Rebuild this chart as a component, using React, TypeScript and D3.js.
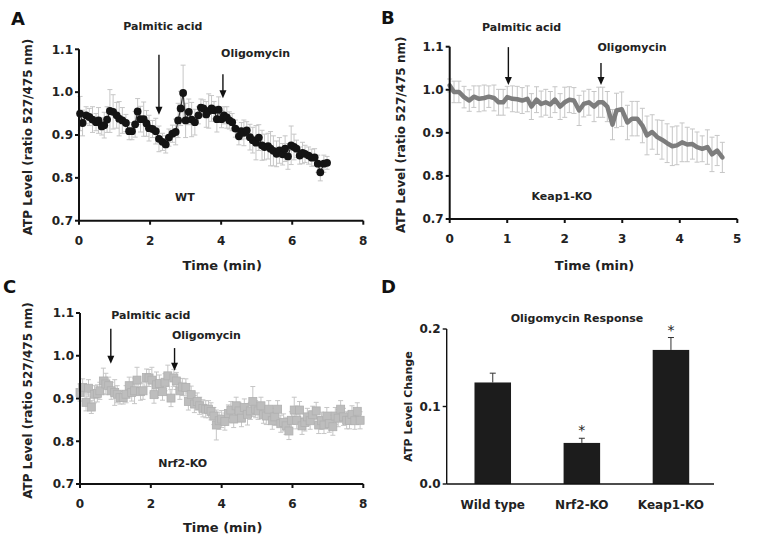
import React from "react";
import * as d3 from "d3";

const FONT = "'DejaVu Sans', Verdana, sans-serif";

// [time (min), ATP ratio, error]
const wtData: [number, number, number][] = [
  [0.03, 0.950, 0.04], [0.10, 0.928, 0.03], [0.20, 0.946, 0.02], [0.29, 0.942, 0.02], [0.38, 0.936, 0.03],
  [0.48, 0.930, 0.02], [0.55, 0.934, 0.03], [0.64, 0.920, 0.02], [0.71, 0.923, 0.03], [0.79, 0.936, 0.03],
  [0.87, 0.956, 0.05], [0.96, 0.954, 0.04], [1.06, 0.946, 0.03], [1.13, 0.938, 0.04], [1.22, 0.934, 0.03],
  [1.32, 0.928, 0.02], [1.41, 0.909, 0.02], [1.49, 0.909, 0.02], [1.58, 0.925, 0.03], [1.65, 0.955, 0.03],
  [1.73, 0.937, 0.03], [1.82, 0.937, 0.04], [1.90, 0.927, 0.03], [1.97, 0.916, 0.03], [2.07, 0.914, 0.02],
  [2.16, 0.909, 0.03], [2.25, 0.891, 0.03], [2.35, 0.884, 0.02], [2.44, 0.878, 0.02], [2.53, 0.894, 0.02],
  [2.63, 0.903, 0.02], [2.72, 0.907, 0.03], [2.79, 0.934, 0.04], [2.86, 0.962, 0.04], [2.93, 0.998, 0.065],
  [3.00, 0.934, 0.04], [3.09, 0.954, 0.03], [3.17, 0.936, 0.04], [3.26, 0.930, 0.03], [3.36, 0.946, 0.02],
  [3.43, 0.964, 0.02], [3.50, 0.962, 0.02], [3.58, 0.948, 0.03], [3.65, 0.956, 0.04], [3.73, 0.962, 0.03],
  [3.80, 0.958, 0.02], [3.88, 0.937, 0.03], [3.93, 0.959, 0.03], [4.01, 0.937, 0.02], [4.08, 0.946, 0.02],
  [4.16, 0.941, 0.025], [4.23, 0.934, 0.02], [4.31, 0.930, 0.02], [4.40, 0.915, 0.02], [4.50, 0.897, 0.02],
  [4.57, 0.909, 0.02], [4.64, 0.905, 0.03], [4.72, 0.911, 0.02], [4.81, 0.895, 0.03], [4.89, 0.888, 0.03],
  [4.98, 0.882, 0.04], [5.06, 0.894, 0.03], [5.15, 0.876, 0.035], [5.22, 0.872, 0.03], [5.32, 0.874, 0.03],
  [5.39, 0.868, 0.04], [5.47, 0.863, 0.035], [5.56, 0.856, 0.03], [5.64, 0.864, 0.03], [5.73, 0.855, 0.025],
  [5.80, 0.868, 0.03], [5.88, 0.850, 0.03], [5.97, 0.876, 0.045], [6.05, 0.872, 0.03], [6.12, 0.868, 0.02],
  [6.21, 0.852, 0.02], [6.29, 0.858, 0.025], [6.36, 0.856, 0.02], [6.46, 0.852, 0.02], [6.55, 0.847, 0.02],
  [6.63, 0.848, 0.02], [6.72, 0.833, 0.02], [6.79, 0.813, 0.02], [6.89, 0.833, 0.02], [6.98, 0.835, 0.015],
];

const keapData: [number, number, number][] = [
  [0.00, 1.010, 0.015], [0.075, 0.995, 0.025], [0.16, 0.995, 0.025], [0.25, 0.983, 0.025], [0.34, 0.975, 0.025],
  [0.42, 0.984, 0.025], [0.51, 0.979, 0.03], [0.60, 0.981, 0.03], [0.68, 0.984, 0.025], [0.77, 0.981, 0.03],
  [0.85, 0.971, 0.03], [0.93, 0.971, 0.03], [1.00, 0.983, 0.025], [1.09, 0.979, 0.03], [1.175, 0.978, 0.03],
  [1.26, 0.975, 0.03], [1.35, 0.979, 0.03], [1.42, 0.961, 0.03], [1.51, 0.977, 0.03], [1.59, 0.967, 0.03],
  [1.67, 0.971, 0.03], [1.75, 0.966, 0.03], [1.83, 0.977, 0.03], [1.92, 0.961, 0.03], [2.00, 0.971, 0.035],
  [2.08, 0.977, 0.03], [2.16, 0.975, 0.03], [2.25, 0.952, 0.035], [2.33, 0.967, 0.03], [2.42, 0.971, 0.03],
  [2.51, 0.961, 0.035], [2.59, 0.971, 0.035], [2.66, 0.971, 0.035], [2.74, 0.961, 0.035], [2.83, 0.919, 0.035],
  [2.90, 0.952, 0.04], [2.99, 0.955, 0.04], [3.09, 0.924, 0.04], [3.17, 0.933, 0.04], [3.26, 0.933, 0.04],
  [3.35, 0.917, 0.04], [3.43, 0.894, 0.045], [3.52, 0.902, 0.04], [3.61, 0.890, 0.04], [3.69, 0.884, 0.045],
  [3.78, 0.876, 0.045], [3.87, 0.869, 0.045], [3.95, 0.871, 0.045], [4.04, 0.878, 0.045], [4.13, 0.873, 0.04],
  [4.22, 0.874, 0.035], [4.30, 0.867, 0.035], [4.39, 0.863, 0.03], [4.48, 0.867, 0.04], [4.56, 0.850, 0.04],
  [4.65, 0.859, 0.035], [4.74, 0.843, 0.035],
];

const nrf2Data: [number, number, number][] = [
  [0.00, 0.914, 0.02], [0.075, 0.926, 0.02], [0.17, 0.891, 0.02], [0.24, 0.924, 0.02], [0.32, 0.880, 0.015],
  [0.41, 0.910, 0.02], [0.49, 0.912, 0.02], [0.56, 0.918, 0.02], [0.66, 0.941, 0.03], [0.73, 0.934, 0.025],
  [0.81, 0.930, 0.02], [0.88, 0.918, 0.02], [0.98, 0.914, 0.03], [1.05, 0.910, 0.02], [1.13, 0.902, 0.015],
  [1.22, 0.902, 0.015], [1.30, 0.910, 0.02], [1.39, 0.930, 0.02], [1.46, 0.914, 0.02], [1.54, 0.918, 0.03],
  [1.61, 0.943, 0.03], [1.71, 0.916, 0.02], [1.78, 0.918, 0.02], [1.88, 0.949, 0.02], [1.95, 0.948, 0.02],
  [2.03, 0.943, 0.03], [2.09, 0.909, 0.02], [2.16, 0.932, 0.03], [2.24, 0.935, 0.02], [2.33, 0.916, 0.02],
  [2.40, 0.938, 0.02], [2.48, 0.953, 0.025], [2.57, 0.901, 0.02], [2.65, 0.948, 0.02], [2.72, 0.941, 0.02],
  [2.82, 0.918, 0.02], [2.89, 0.927, 0.02], [2.99, 0.926, 0.02], [3.06, 0.893, 0.02], [3.14, 0.909, 0.02],
  [3.23, 0.887, 0.02], [3.31, 0.893, 0.02], [3.38, 0.883, 0.02], [3.47, 0.877, 0.02], [3.55, 0.875, 0.02],
  [3.63, 0.875, 0.02], [3.70, 0.870, 0.02], [3.78, 0.859, 0.02], [3.85, 0.838, 0.035], [3.93, 0.848, 0.02],
  [4.00, 0.852, 0.02], [4.09, 0.846, 0.02], [4.19, 0.865, 0.02], [4.26, 0.873, 0.02], [4.34, 0.852, 0.02],
  [4.41, 0.883, 0.02], [4.49, 0.871, 0.02], [4.56, 0.854, 0.02], [4.64, 0.879, 0.02], [4.73, 0.863, 0.025],
  [4.81, 0.871, 0.02], [4.88, 0.893, 0.035], [4.96, 0.875, 0.02], [5.03, 0.871, 0.02], [5.11, 0.883, 0.02],
  [5.18, 0.862, 0.02], [5.26, 0.859, 0.02], [5.33, 0.875, 0.02], [5.43, 0.848, 0.02], [5.50, 0.857, 0.02],
  [5.58, 0.875, 0.02], [5.67, 0.841, 0.02], [5.75, 0.844, 0.02], [5.82, 0.836, 0.02], [5.90, 0.824, 0.02],
  [5.97, 0.849, 0.02], [6.05, 0.873, 0.03], [6.12, 0.849, 0.02], [6.20, 0.873, 0.02], [6.27, 0.836, 0.02],
  [6.35, 0.844, 0.02], [6.42, 0.857, 0.02], [6.50, 0.848, 0.02], [6.57, 0.862, 0.02], [6.67, 0.871, 0.02],
  [6.74, 0.838, 0.02], [6.82, 0.848, 0.02], [6.89, 0.838, 0.02], [6.97, 0.859, 0.02], [7.04, 0.841, 0.02],
  [7.14, 0.834, 0.02], [7.21, 0.859, 0.02], [7.29, 0.854, 0.02], [7.36, 0.875, 0.02], [7.44, 0.857, 0.02],
  [7.53, 0.849, 0.02], [7.61, 0.849, 0.02], [7.68, 0.863, 0.02], [7.76, 0.848, 0.02], [7.83, 0.870, 0.02],
  [7.91, 0.849, 0.02],
];

const ratioTicks = [0.7, 0.8, 0.9, 1.0, 1.1];
const timeTicks8 = [0, 2, 4, 6, 8];
const timeTicks5 = [0, 1, 2, 3, 4, 5];

const barCategories = ["Wild type", "Nrf2-KO", "Keap1-KO"];
const barValues = [0.131, 0.053, 0.173];
const barErrors = [0.012, 0.006, 0.016];
const barSignificant = [false, true, true];
const barTicks = [0.0, 0.1, 0.2];

type Arrow = { t: number; from: number; to: number; label: string; lx: number; ly: number };

const arrowsA: Arrow[] = [
  { t: 2.25, from: 1.087, to: 0.947, label: "Palmitic acid", lx: 2.36, ly: 1.146 },
  { t: 4.05, from: 1.042, to: 0.986, label: "Oligomycin", lx: 4.97, ly: 1.081 },
];
const arrowsB: Arrow[] = [
  { t: 1.02, from: 1.099, to: 1.011, label: "Palmitic acid", lx: 1.25, ly: 1.136 },
  { t: 2.63, from: 1.062, to: 1.011, label: "Oligomycin", lx: 3.17, ly: 1.090 },
];
const arrowsC: Arrow[] = [
  { t: 0.87, from: 1.063, to: 0.981, label: "Palmitic acid", lx: 2.0, ly: 1.085 },
  { t: 2.67, from: 1.018, to: 0.965, label: "Oligomycin", lx: 3.57, ly: 1.0385 },
];

type PanelProps = {
  xr: [number, number];
  yr: [number, number];
  xMax: number;
  xTicks: number[];
  data: [number, number, number][];
  kind: "circle" | "thick" | "square";
  arrows: Arrow[];
  letter: string;
  letterX: number;
  letterY: number;
  name: string;
  nameT: number;
  nameV: number;
  yLabelX: number;
  xLabelY: number;
};

function LinePanel(p: PanelProps) {
  const x = d3.scaleLinear().domain([0, p.xMax]).range(p.xr);
  const y = d3.scaleLinear().domain([0.7, 1.1]).range(p.yr);
  const line = d3.line<[number, number, number]>().x((d) => x(d[0])).y((d) => y(d[1]));
  const [x0, x1] = p.xr;
  const [y0, y1] = p.yr;
  return (
    <g fontFamily={FONT} fontWeight="bold" fill="#222">
      <text x={p.letterX} y={p.letterY} fontSize={18} fill="#111">{p.letter}</text>
      {/* error bars */}
      <g stroke="#c6c6c6" strokeWidth={1}>
        {p.data.map((d, i) => (
          <g key={i}>
            <line x1={x(d[0])} x2={x(d[0])} y1={y(d[1] - d[2])} y2={y(d[1] + d[2])} />
            <line x1={x(d[0]) - 2.5} x2={x(d[0]) + 2.5} y1={y(d[1] + d[2])} y2={y(d[1] + d[2])} />
            <line x1={x(d[0]) - 2.5} x2={x(d[0]) + 2.5} y1={y(d[1] - d[2])} y2={y(d[1] - d[2])} />
          </g>
        ))}
      </g>
      {p.kind === "circle" && (
        <g>
          <path d={line(p.data) || ""} fill="none" stroke="#333" strokeWidth={1.2} />
          {p.data.map((d, i) => (
            <circle key={i} cx={x(d[0])} cy={y(d[1])} r={3.9} fill="#141414" />
          ))}
        </g>
      )}
      {p.kind === "thick" && (
        <path d={line(p.data) || ""} fill="none" stroke="#7d7d7d" strokeWidth={4.5} strokeLinejoin="round" strokeLinecap="round" />
      )}
      {p.kind === "square" && (
        <g>
          <path d={line(p.data) || ""} fill="none" stroke="#d4d4d4" strokeWidth={1} />
          {p.data.map((d, i) => (
            <rect key={i} x={x(d[0]) - 4} y={y(d[1]) - 4} width={8} height={8} fill="#bdbdbd" stroke="#b0b0b0" strokeWidth={0.8} />
          ))}
        </g>
      )}
      {/* axes */}
      <g stroke="#111" strokeWidth={2}>
        <line x1={x0} x2={x0} y1={y0 + 1} y2={y1} />
        <line x1={x0} x2={x1} y1={y0} y2={y0} />
        {ratioTicks.map((t) => (
          <line key={"yt" + t} x1={x0 - 4} x2={x0} y1={y(t)} y2={y(t)} />
        ))}
        {p.xTicks.map((t) => (
          <line key={"xt" + t} x1={x(t)} x2={x(t)} y1={y0} y2={y0 + 4} />
        ))}
      </g>
      {ratioTicks.map((t) => (
        <text key={"yl" + t} x={x0 - 6} y={y(t)} dy="0.36em" textAnchor="end" fontSize={12}>
          {d3.format(".1f")(t)}
        </text>
      ))}
      {p.xTicks.map((t) => (
        <text key={"xl" + t} x={x(t)} y={y0 + 24} textAnchor="middle" fontSize={12}>
          {t}
        </text>
      ))}
      <text x={(x0 + x1) / 2 + 1} y={p.xLabelY} textAnchor="middle" fontSize={13}>Time (min)</text>
      <text
        transform={`translate(${p.yLabelX},${(y0 + y1) / 2 + 2}) rotate(-90)`}
        textAnchor="middle"
        fontSize={12}
      >
        ATP Level (ratio 527/475 nm)
      </text>
      {/* arrows and annotations */}
      {p.arrows.map((a, i) => (
        <g key={i}>
          <line x1={x(a.t)} x2={x(a.t)} y1={y(a.from)} y2={y(a.to) - 6} stroke="#111" strokeWidth={1.4} />
          <path
            d={`M${x(a.t) - 3.5},${y(a.to) - 8} L${x(a.t) + 3.5},${y(a.to) - 8} L${x(a.t)},${y(a.to)} Z`}
            fill="#111"
          />
          <text x={x(a.lx)} y={y(a.ly)} textAnchor="middle" fontSize={11}>{a.label}</text>
        </g>
      ))}
      <text x={x(p.nameT)} y={y(p.nameV)} textAnchor="middle" fontSize={11}>{p.name}</text>
    </g>
  );
}

function BarPanel() {
  const x0 = 446.7;
  const x1 = 714;
  const y = d3.scaleLinear().domain([0, 0.2]).range([484, 329]);
  const xb = d3.scaleBand<string>().domain(barCategories).range([x0 + 1.5, x1 + 1.5]).paddingInner(0.59).paddingOuter(0.295);
  const bw = xb.bandwidth();
  return (
    <g fontFamily={FONT} fontWeight="bold" fill="#222">
      <text x={381} y={293} fontSize={18} fill="#111">D</text>
      <text x={577} y={321.5} textAnchor="middle" fontSize={11}>Oligomycin Response</text>
      {barCategories.map((c, i) => {
        const cx = (xb(c) as number) + bw / 2;
        const top = y(barValues[i] + barErrors[i]);
        return (
          <g key={c}>
            <line x1={cx} x2={cx} y1={y(barValues[i])} y2={top} stroke="#333" strokeWidth={1} />
            <line x1={cx - 3} x2={cx + 3} y1={top} y2={top} stroke="#333" strokeWidth={1} />
            <rect x={xb(c)} y={y(barValues[i])} width={bw} height={y(0) - y(barValues[i])} fill="#1c1c1c" />
            {barSignificant[i] && (
              <text x={cx} y={top - 3} textAnchor="middle" fontSize={14} fontWeight="normal">*</text>
            )}
            <text x={cx} y={509} textAnchor="middle" fontSize={12}>{c}</text>
          </g>
        );
      })}
      <g stroke="#111" strokeWidth={1.4}>
        <line x1={x0} x2={x0} y1={y(0)} y2={y(0.2)} />
        <line x1={x0} x2={x1} y1={y(0)} y2={y(0)} />
        {barTicks.map((t) => (
          <line key={t} x1={x0 - 4} x2={x0} y1={y(t)} y2={y(t)} />
        ))}
      </g>
      {barTicks.map((t) => (
        <text key={"l" + t} x={x0 - 6} y={y(t)} dy="0.36em" textAnchor="end" fontSize={12}>
          {d3.format(".1f")(t)}
        </text>
      ))}
      <text transform={`translate(412,406.5) rotate(-90)`} textAnchor="middle" fontSize={11}>
        ATP Level Change
      </text>
    </g>
  );
}

export default function App() {
  return (
    <svg width={758} height={548} style={{ position: "absolute", left: 0, top: 0, background: "#fff" }}>
      <rect width={758} height={548} fill="#fff" />
      <LinePanel
        xr={[79, 363.3]} yr={[220.7, 49.3]} xMax={8} xTicks={timeTicks8} data={wtData} kind="circle"
        arrows={arrowsA} letter="A" letterX={11} letterY={25} name="WT" nameT={2.98} nameV={0.745}
        yLabelX={32} xLabelY={270}
      />
      <LinePanel
        xr={[449.7, 737.3]} yr={[219, 46.7]} xMax={5} xTicks={timeTicks5} data={keapData} kind="thick"
        arrows={arrowsB} letter="B" letterX={381} letterY={24} name="Keap1-KO" nameT={1.95} nameV={0.744}
        yLabelX={405} xLabelY={270}
      />
      <LinePanel
        xr={[80, 363.3]} yr={[484, 313]} xMax={8} xTicks={timeTicks8} data={nrf2Data} kind="square"
        arrows={arrowsC} letter="C" letterX={3} letterY={293} name="Nrf2-KO" nameT={2.9} nameV={0.74}
        yLabelX={32} xLabelY={532}
      />
      <BarPanel />
    </svg>
  );
}
